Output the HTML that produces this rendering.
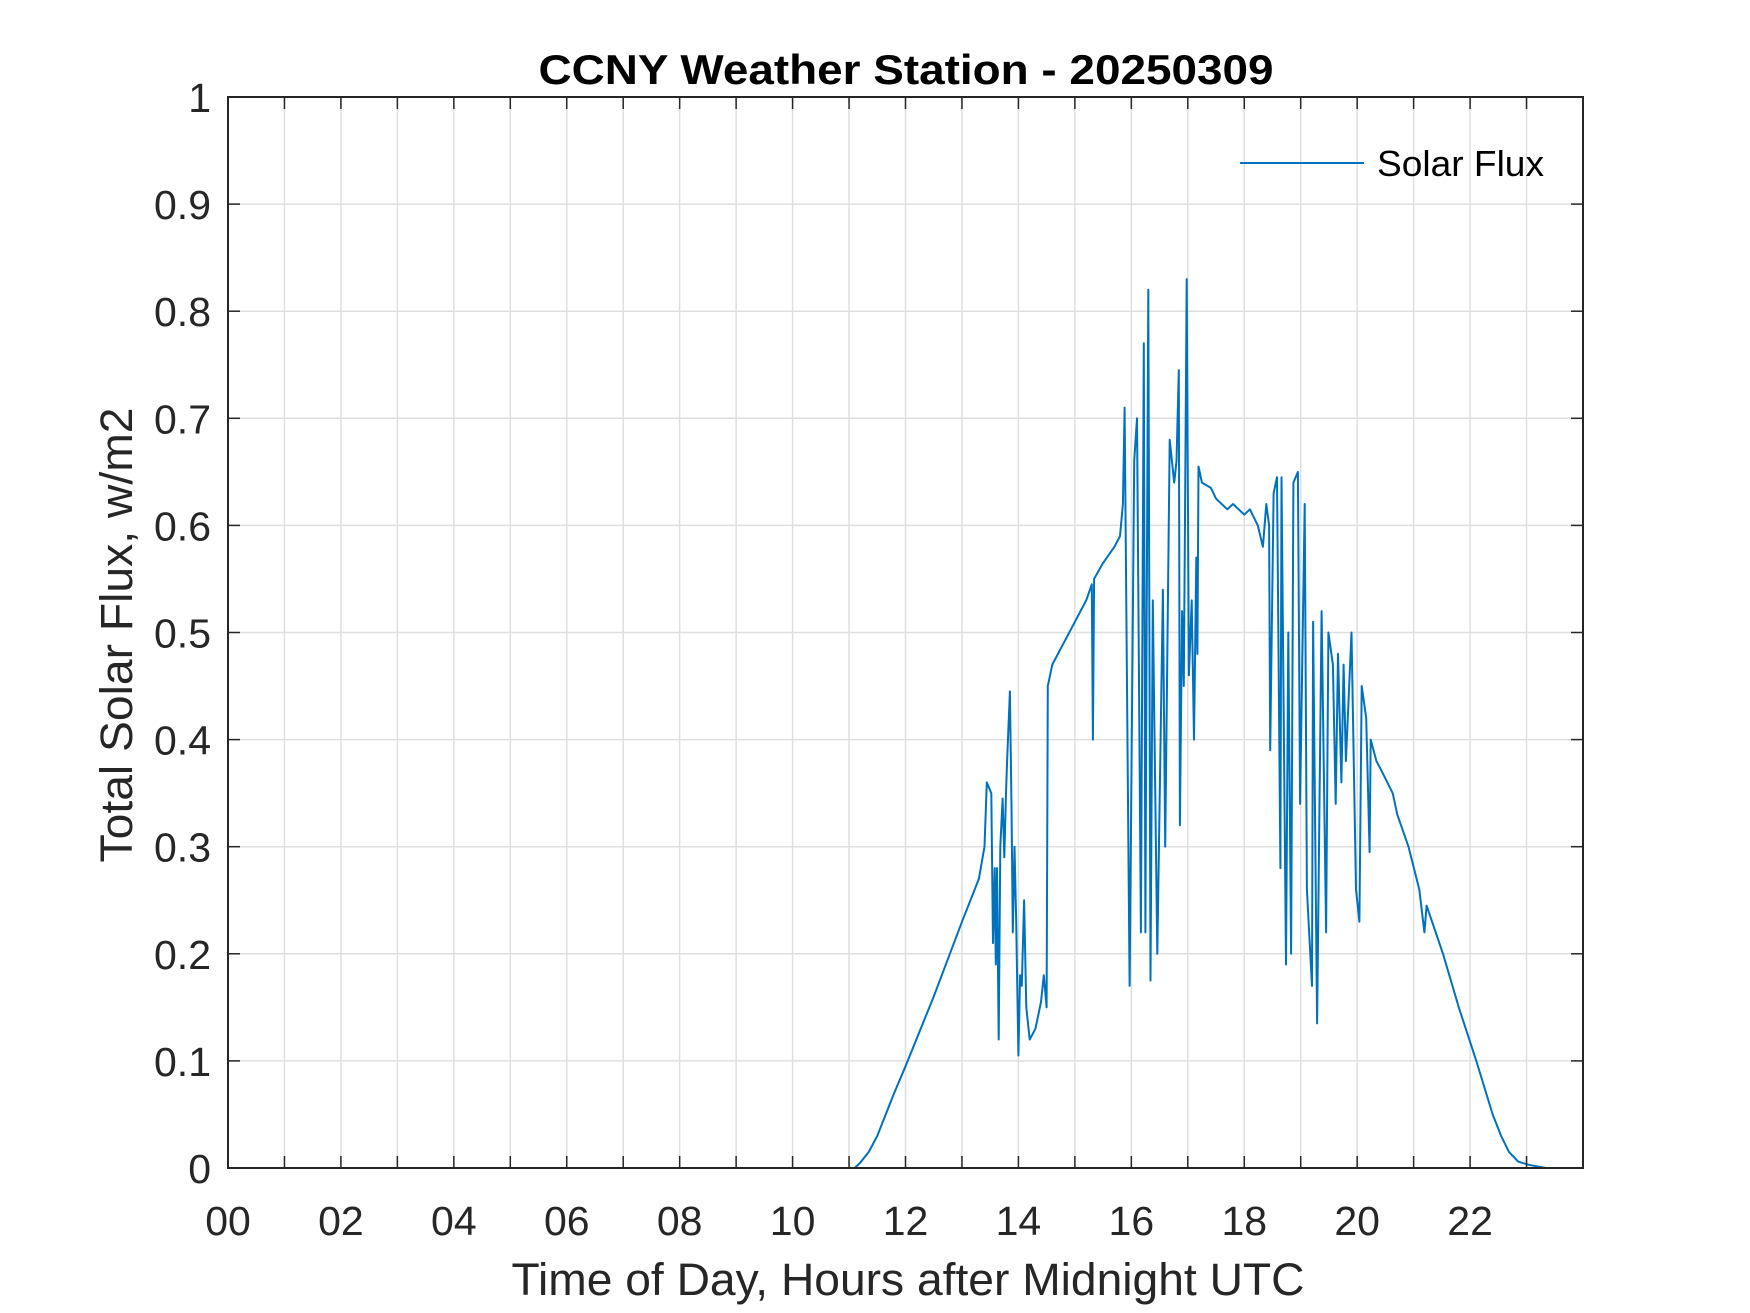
<!DOCTYPE html>
<html><head><meta charset="utf-8"><style>
html,body{margin:0;padding:0;background:#fff;}
svg{display:block;font-family:"Liberation Sans",Arial,sans-serif;}
</style></head><body>
<svg id="chart" width="1750" height="1313" viewBox="0 0 1750 1313" xmlns="http://www.w3.org/2000/svg">
<rect width="1750" height="1313" fill="#fff"/>
<g id="grid"></g>
<g id="series"></g>
<g id="axes"></g>
<text x="906" y="84" text-anchor="middle" font-size="42" font-weight="bold" fill="#000" textLength="735" lengthAdjust="spacingAndGlyphs">CCNY Weather Station - 20250309</text>
<text x="908" y="1295" text-anchor="middle" font-size="45" fill="#262626" textLength="793" lengthAdjust="spacingAndGlyphs">Time of Day, Hours after Midnight UTC</text>
<text x="0" y="0" transform="translate(132,635) rotate(-90)" text-anchor="middle" font-size="45" fill="#262626" textLength="455" lengthAdjust="spacingAndGlyphs">Total Solar Flux, w/m2</text>
<g>
<line x1="1240" y1="163" x2="1364" y2="163" stroke="#0072BD" stroke-width="2"/>
<text x="1377" y="176" font-size="36" fill="#000" textLength="167" lengthAdjust="spacingAndGlyphs">Solar Flux</text>
</g>
</svg>
<script>
const hours = [0,11.1,11.2,11.35,11.5,11.65,11.8,12.0,12.5,13.0,13.3,13.4,13.44,13.52,13.55,13.58,13.6,13.62,13.65,13.68,13.72,13.75,13.78,13.8,13.85,13.88,13.9,13.93,13.96,14.0,14.03,14.06,14.1,14.14,14.2,14.3,14.4,14.45,14.5,14.52,14.6,14.8,15.0,15.2,15.3,15.32,15.34,15.5,15.7,15.8,15.85,15.88,15.97,16.05,16.1,16.17,16.22,16.25,16.27,16.3,16.34,16.38,16.46,16.56,16.6,16.68,16.76,16.8,16.84,16.86,16.9,16.93,16.98,17.02,17.07,17.11,17.15,17.17,17.19,17.25,17.41,17.5,17.7,17.8,18.0,18.1,18.24,18.33,18.39,18.44,18.46,18.52,18.58,18.64,18.66,18.74,18.78,18.83,18.87,18.95,18.99,19.07,19.11,19.2,19.22,19.29,19.37,19.45,19.49,19.57,19.62,19.66,19.72,19.76,19.8,19.9,19.98,20.04,20.08,20.16,20.22,20.24,20.34,20.44,20.63,20.71,20.91,21.1,21.19,21.23,21.52,21.8,22.11,22.4,22.55,22.69,22.85,23.04,23.34,24];
const flux = [0,0,0.005,0.015,0.03,0.05,0.07,0.095,0.16,0.23,0.27,0.30,0.36,0.35,0.21,0.28,0.19,0.28,0.12,0.30,0.345,0.29,0.35,0.38,0.445,0.33,0.22,0.30,0.23,0.105,0.18,0.17,0.25,0.15,0.12,0.13,0.155,0.18,0.15,0.45,0.47,0.49,0.51,0.53,0.545,0.40,0.55,0.565,0.58,0.59,0.62,0.71,0.17,0.66,0.70,0.22,0.77,0.22,0.50,0.82,0.175,0.53,0.20,0.54,0.30,0.68,0.64,0.66,0.745,0.32,0.52,0.45,0.83,0.46,0.53,0.40,0.57,0.48,0.655,0.64,0.635,0.625,0.615,0.62,0.61,0.615,0.60,0.58,0.62,0.60,0.39,0.63,0.645,0.28,0.645,0.19,0.50,0.20,0.64,0.65,0.34,0.62,0.26,0.17,0.51,0.135,0.52,0.22,0.50,0.47,0.34,0.48,0.36,0.47,0.38,0.50,0.26,0.23,0.45,0.42,0.295,0.40,0.38,0.37,0.35,0.33,0.30,0.26,0.22,0.245,0.20,0.15,0.10,0.05,0.03,0.015,0.006,0.003,0,0];
const xTickLabels = ["00","02","04","06","08","10","12","14","16","18","20","22"];
const yTickLabels = ["0","0.1","0.2","0.3","0.4","0.5","0.6","0.7","0.8","0.9","1"];

const L=228,R=1583,T=97,B=1168;
const xMax=24;
function sx(h){return L+(R-L)*h/xMax;}
function sy(v){return B-(B-T)*v;}
const NS="http://www.w3.org/2000/svg";
function mk(tag,attrs,parent){const e=document.createElementNS(NS,tag);for(const k in attrs)e.setAttribute(k,attrs[k]);parent.appendChild(e);return e;}
const grid=document.getElementById('grid'),axes=document.getElementById('axes'),series=document.getElementById('series');

for(let h=1;h<24;h++){
  const g=mk('line',{x1:sx(h),x2:sx(h),y1:T,y2:B,stroke:'#dfdfdf','stroke-width':1.5},grid);
  
  
  const t1=mk('line',{x1:sx(h),x2:sx(h),y1:B,y2:B-12,stroke:'#262626','stroke-width':1.5},axes);
  
  
  const t2=mk('line',{x1:sx(h),x2:sx(h),y1:T,y2:T+12,stroke:'#262626','stroke-width':1.5},axes);
  
  
}
xTickLabels.forEach((lab,i)=>{
  const t=mk('text',{x:sx(i*2),y:1235,'text-anchor':'middle','font-size':41,fill:'#262626'},axes);
  t.textContent=lab;
  
  
});
yTickLabels.forEach((lab,i)=>{
  const v=i/10;
  if(i>0&&i<10){
    const g=mk('line',{x1:L,x2:R,y1:sy(v),y2:sy(v),stroke:'#dfdfdf','stroke-width':1.5},grid);
    
    
    const a=mk('line',{x1:L,x2:L+12,y1:sy(v),y2:sy(v),stroke:'#262626','stroke-width':1.5},axes);
    
    
    const b=mk('line',{x1:R,x2:R-12,y1:sy(v),y2:sy(v),stroke:'#262626','stroke-width':1.5},axes);
    
    
  }
  const t=mk('text',{x:211,y:sy(v)+15,'text-anchor':'end','font-size':41,fill:'#262626'},axes);
  t.textContent=lab;
  
  
});
const frame=mk('rect',{x:L,y:T,width:R-L,height:B-T,fill:'none',stroke:'#262626','stroke-width':2},axes);



const pts=hours.map((h,i)=>sx(h).toFixed(1)+','+sy(flux[i]).toFixed(1)).join(' ');
const line=mk('polyline',{points:pts,fill:'none',stroke:'#0072BD','stroke-width':2,'stroke-linejoin':'round'},series);


</script>
</body></html>
